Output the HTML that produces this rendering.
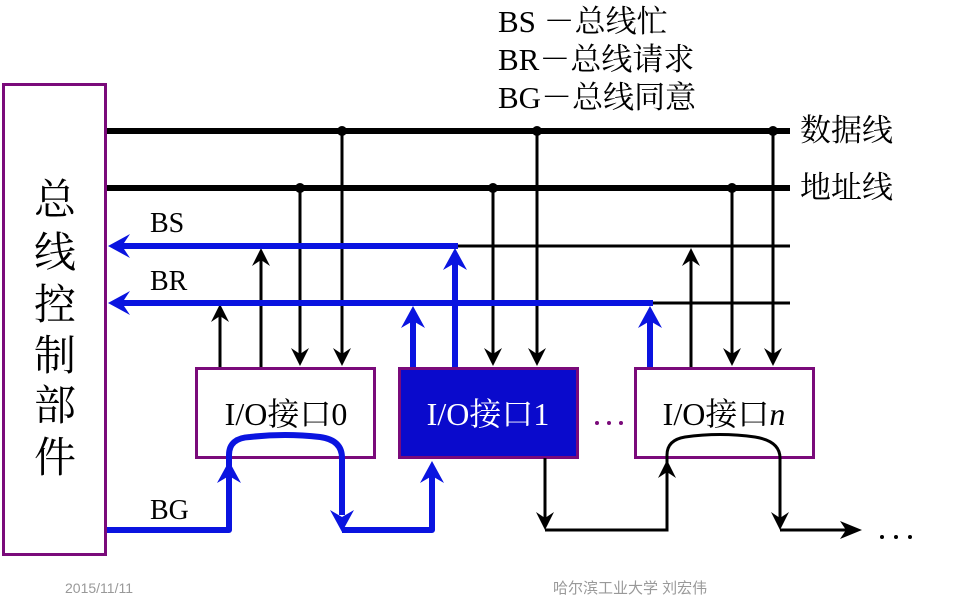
<!DOCTYPE html>
<html><head><meta charset="utf-8"><style>
html,body{margin:0;padding:0;background:#fff;}
svg{display:block;}
text{font-family:"Liberation Serif","Noto Serif CJK SC",serif;}
</style></head><body>
<svg width="956" height="604" viewBox="0 0 956 604" xmlns="http://www.w3.org/2000/svg">
<defs>
<g id="au"><polygon points="0,0 -9,18 0,12 9,18" fill="#000"/></g>
<g id="ad"><polygon points="0,0 -9,-18 0,-12 9,-18" fill="#000"/></g>
<g id="bu"><polygon points="0,0 -12,22 0,15 12,22" fill="#0a14e0"/></g>
<g id="bd"><polygon points="0,0 -12,-22 0,-15 12,-22" fill="#0a14e0"/></g>
</defs>
<g font-size="31" fill="#000">
<text x="498" y="32">BS －总线忙</text>
<text x="498" y="70">BR－总线请求</text>
<text x="498" y="108">BG－总线同意</text>
<text x="800" y="141">数据线</text>
<text x="800" y="198">地址线</text>
</g>
<rect x="3.5" y="84.5" width="102" height="470" fill="#fff" stroke="#7a0a7a" stroke-width="3"/>
<g font-size="42" fill="#000" text-anchor="middle">
<text x="55" y="214">总</text><text x="55" y="267">线</text><text x="55" y="319">控</text>
<text x="55" y="370">制</text><text x="55" y="420">部</text><text x="55" y="472">件</text>
</g>
<line x1="107" y1="131" x2="790" y2="131" stroke="#000" stroke-width="6"/>
<line x1="107" y1="188" x2="790" y2="188" stroke="#000" stroke-width="6"/>
<circle cx="342" cy="131" r="5"/><circle cx="537" cy="131" r="5"/><circle cx="773" cy="131" r="5"/>
<circle cx="300" cy="188" r="5"/><circle cx="493" cy="188" r="5"/><circle cx="732" cy="188" r="5"/>
<line x1="455" y1="246" x2="790" y2="246" stroke="#000" stroke-width="3"/>
<line x1="650" y1="303" x2="790" y2="303" stroke="#000" stroke-width="3"/>
<g stroke="#000" stroke-width="3">
<line x1="220" y1="367" x2="220" y2="310"/><line x1="261" y1="367" x2="261" y2="252"/>
<line x1="300" y1="188" x2="300" y2="360"/><line x1="342" y1="131" x2="342" y2="360"/>
<line x1="493" y1="188" x2="493" y2="360"/><line x1="537" y1="131" x2="537" y2="360"/>
<line x1="691" y1="367" x2="691" y2="252"/>
<line x1="732" y1="188" x2="732" y2="360"/><line x1="773" y1="131" x2="773" y2="360"/>
</g>
<use href="#au" x="220" y="304"/><use href="#au" x="261" y="248"/>
<use href="#ad" x="300" y="366"/><use href="#ad" x="342" y="366"/>
<use href="#ad" x="493" y="366"/><use href="#ad" x="537" y="366"/>
<use href="#au" x="691" y="248"/>
<use href="#ad" x="732" y="366"/><use href="#ad" x="773" y="366"/>
<g stroke="#0a14e0" stroke-width="6" fill="none">
<line x1="120" y1="246" x2="458" y2="246"/>
<line x1="120" y1="303" x2="653" y2="303"/>
<line x1="455" y1="367" x2="455" y2="262"/>
<line x1="413" y1="367" x2="413" y2="320"/>
<line x1="650" y1="367" x2="650" y2="320"/>
</g>
<polygon points="108,246 130,234 122,246 130,258" fill="#0a14e0"/>
<polygon points="108,303 130,291 122,303 130,315" fill="#0a14e0"/>
<use href="#bu" x="455" y="248"/><use href="#bu" x="413" y="306"/><use href="#bu" x="650" y="306"/>
<g font-size="28" fill="#000">
<text x="150" y="232">BS</text><text x="150" y="290">BR</text><text x="150" y="519">BG</text>
</g>
<rect x="196.5" y="368.5" width="178" height="89" fill="#fff" stroke="#7a0a7a" stroke-width="3"/>
<rect x="399.5" y="368.5" width="178" height="89" fill="#0a0acc" stroke="#7a0a7a" stroke-width="3"/>
<rect x="635.5" y="368.5" width="178" height="89" fill="#fff" stroke="#7a0a7a" stroke-width="3"/>
<g font-size="32" text-anchor="middle">
<text x="286" y="425" fill="#000">I/O接口0</text>
<text x="488" y="425" fill="#fff">I/O接口1</text>
<text x="724" y="425" fill="#000">I/O接口<tspan font-style="italic">n</tspan></text>
</g>
<g fill="#7a0a7a"><circle cx="597" cy="423" r="2"/><circle cx="609" cy="423" r="2"/><circle cx="621" cy="423" r="2"/></g>
<g stroke="#0a14e0" stroke-width="6" fill="none" stroke-linejoin="round">
<path d="M107,530 H229 V455 Q229,438 250,437 Q285,433 320,437 Q342,440 342,458 V515"/>
<path d="M342,530 H432 V475"/>
</g>
<use href="#bu" x="229" y="461"/><use href="#bd" x="342" y="532"/><use href="#bu" x="432" y="461"/>
<g stroke="#000" stroke-width="3" fill="none">
<path d="M545,458 V520"/>
<path d="M545,530 H667 V455 Q667,440 685,437 Q720,432 755,437 Q780,441 780,458 V520"/>
<path d="M780,530 H850"/>
</g>
<use href="#ad" x="545" y="530"/><use href="#au" x="667" y="460"/><use href="#ad" x="780" y="530"/>
<polygon points="862,530 840,521 846,530 840,539" fill="#000"/>
<g fill="#000"><circle cx="882" cy="537" r="2"/><circle cx="896" cy="537" r="2"/><circle cx="910" cy="537" r="2"/></g>
<text x="65" y="593" fill="#999" style="font-family:'Liberation Sans',sans-serif;font-size:14px">2015/11/11</text>
<text x="553" y="593" fill="#999" style="font-family:'Liberation Sans','Noto Sans CJK SC',sans-serif;font-size:15px">哈尔滨工业大学  刘宏伟</text>
</svg>
</body></html>
